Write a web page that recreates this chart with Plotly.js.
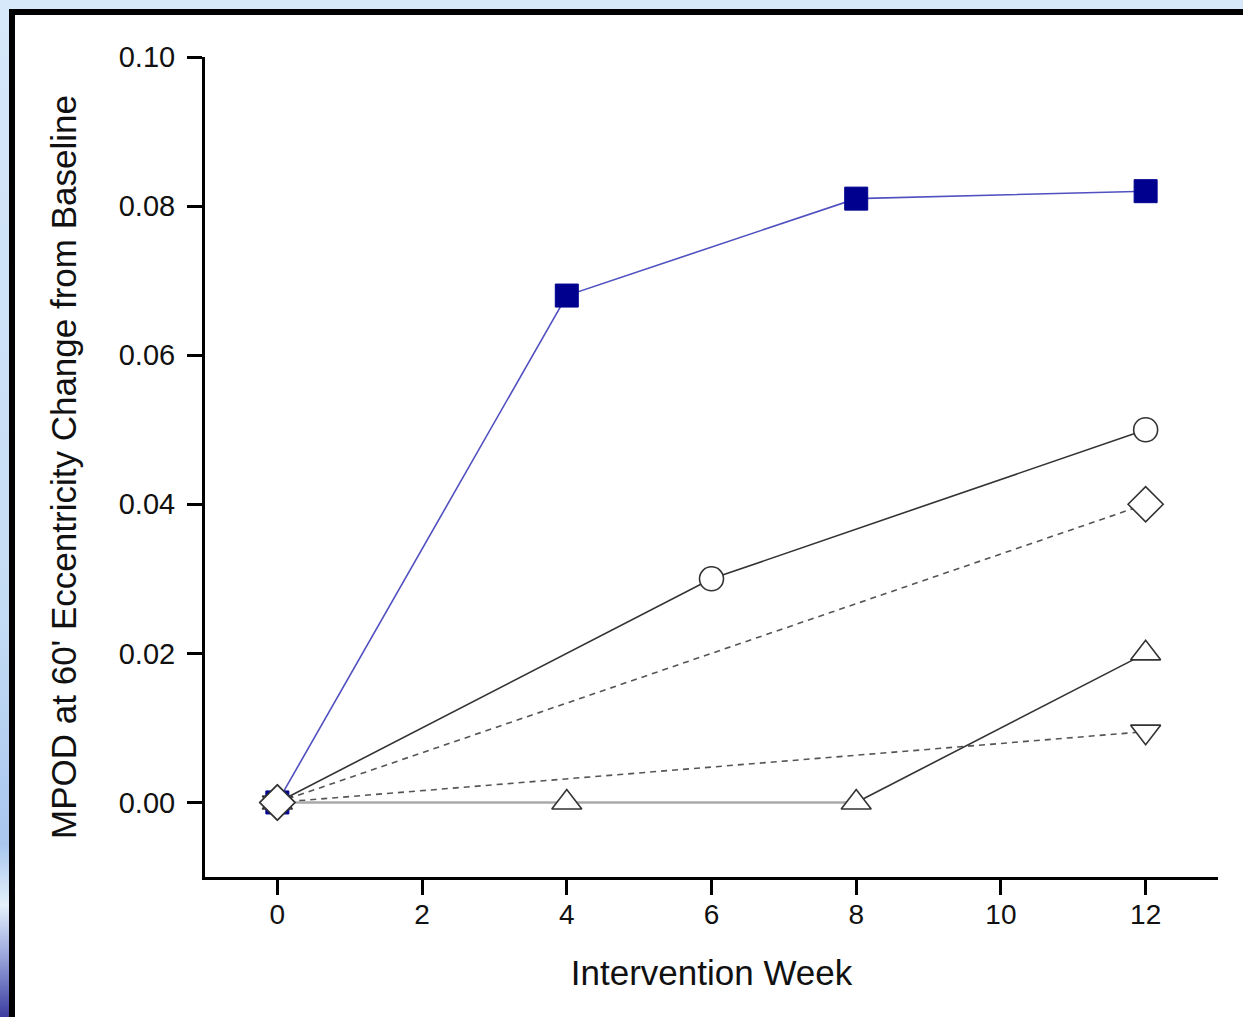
<!DOCTYPE html>
<html>
<head>
<meta charset="utf-8">
<script src="https://cdn.plot.ly/plotly-3.0.1.min.js"></script>
<style>
  html, body { margin: 0; padding: 0; width: 1243px; height: 1017px; overflow: hidden; }
  body { background: #d6e8fa; position: relative; }
  #leftstrip { position: absolute; left: 0; top: 0; width: 10px; height: 1017px;
    background: linear-gradient(to bottom, #d6e8fa 0%, #c5dcf5 60%, #a9c6ee 83%, #e4f0fb 89%, #9aa6dc 94%, #3c3ca0 100%); }
  #frame { position: absolute; left: 9px; top: 9px; width: 1234px; height: 1008px;
    border-left: 6px solid #000; border-top: 6px solid #000; background: #fff; }
  #chart { position: absolute; left: 15px; top: 15px; width: 1228px; height: 1002px; }
</style>
</head>
<body>
<div id="leftstrip"></div>
<div id="frame"></div>
<div id="chart"></div>
<script>
// Data
var squareWeeks = [0, 4, 8, 12];
var squareValues = [0, 0.068, 0.081, 0.082];

var circleWeeks = [0, 6, 12];
var circleValues = [0, 0.030, 0.050];

var diamondWeeks = [0, 12];
var diamondValues = [0, 0.040];

var triUpWeeksA = [0, 4, 8];
var triUpValuesA = [0, 0, 0];
var triUpWeeksB = [8, 12];
var triUpValuesB = [0, 0.020];

var triDownWeeks = [0, 12];
var triDownValues = [0, 0.0095];

var xTickVals = [0, 2, 4, 6, 8, 10, 12];
var yTickVals = [0, 0.02, 0.04, 0.06, 0.08, 0.10];
var yTickText = ['0.00', '0.02', '0.04', '0.06', '0.08', '0.10'];

var openMarker = function (sym, size) {
  return { symbol: sym, size: size, color: '#ffffff', line: { color: '#333333', width: 1.6 } };
};

var traces = [
  { x: triDownWeeks, y: triDownValues, mode: 'lines+markers',
    line: { color: '#555555', width: 1.6, dash: '6px,5px' },
    marker: openMarker('triangle-down', 26) },
  { x: triUpWeeksA, y: triUpValuesA, mode: 'lines',
    line: { color: '#aaaaaa', width: 2.6 } },
  { x: triUpWeeksB, y: triUpValuesB, mode: 'lines',
    line: { color: '#333333', width: 1.6 } },
  { x: triUpWeeksA.concat([triUpWeeksB[1]]), y: triUpValuesA.concat([triUpValuesB[1]]), mode: 'markers',
    marker: openMarker('triangle-up', 26) },
  { x: diamondWeeks, y: diamondValues, mode: 'lines+markers',
    line: { color: '#555555', width: 1.6, dash: '6px,5px' },
    marker: openMarker('diamond', 27) },
  { x: circleWeeks, y: circleValues, mode: 'lines+markers',
    line: { color: '#333333', width: 1.6 },
    marker: openMarker('circle', 24) },
  { x: squareWeeks, y: squareValues, mode: 'lines+markers',
    line: { color: '#5050c0', width: 1.6 },
    marker: { symbol: 'square', size: 23, color: '#00008f', line: { color: '#00008f', width: 1 } } }
];
// diamond at origin drawn on top (as in reference)
traces.push({ x: [diamondWeeks[0]], y: [diamondValues[0]], mode: 'markers', marker: openMarker('diamond', 27) });

var layout = {
  width: 1228, height: 1002,
  margin: { l: 190, r: 25, t: 42, b: 140 },
  paper_bgcolor: '#ffffff', plot_bgcolor: '#ffffff',
  showlegend: false,
  font: { family: 'Liberation Sans, Arial, sans-serif', color: '#111111' },
  xaxis: {
    range: [-1, 13], tickvals: xTickVals, ticks: 'outside', ticklen: 15, tickwidth: 3,
    tickcolor: '#000', showline: true, linecolor: '#000', linewidth: 3, showgrid: false, zeroline: false,
    tickfont: { size: 28, color: '#111' }, ticklabelstandoff: -5,
    title: { text: 'Intervention Week', font: { size: 35, color: '#111' }, standoff: 32 }
  },
  yaxis: {
    range: [-0.01, 0.10], tickvals: yTickVals, ticktext: yTickText, ticks: 'outside', ticklen: 15, tickwidth: 3,
    tickcolor: '#000', showline: true, linecolor: '#000', linewidth: 3, showgrid: false, zeroline: false,
    tickfont: { size: 29, color: '#111' }, ticklabelstandoff: 6,
    title: { text: "MPOD at 60' Eccentricity Change from Baseline", font: { size: 35, color: '#111' }, standoff: 32 }
  }
};

Plotly.newPlot('chart', traces, layout, { displayModeBar: false, staticPlot: true });
</script>
</body>
</html>
